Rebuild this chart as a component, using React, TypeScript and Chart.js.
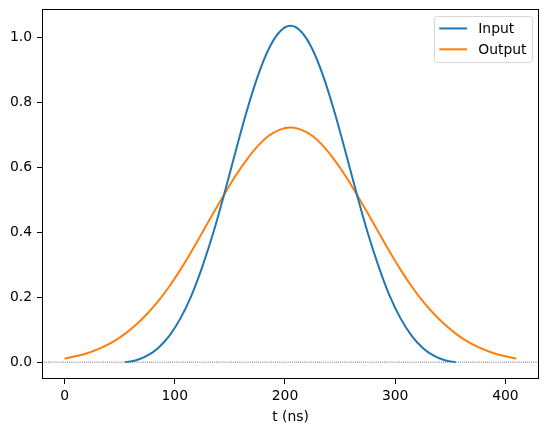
import React, { useEffect, useRef } from 'react';
import { Chart, registerables } from 'chart.js';

Chart.register(...registerables);

// ---- data ----
const seriesNames = ['Input', 'Output'];
const seriesColors = ['#1f77b4', '#ff7f0e'];
const xLabel = 't (ns)';

const inputT = [55, 65, 75, 85, 95, 105, 115, 125, 135, 145, 155, 165, 175, 185, 195, 205,
  215, 225, 235, 245, 255, 265, 275, 285, 295, 305, 315, 325, 335, 345, 355];
const inputV = [0.000, 0.006, 0.020, 0.044, 0.081, 0.134, 0.204, 0.294, 0.399, 0.519, 0.646,
  0.769, 0.877, 0.962, 1.016, 1.035, 1.016, 0.962, 0.877, 0.769, 0.646, 0.519, 0.399, 0.294,
  0.204, 0.134, 0.081, 0.044, 0.020, 0.006, 0.000];

const outputT = [0, 5, 15, 25, 35, 45, 55, 65, 75, 85, 95, 105, 115, 125, 135, 145, 155, 165,
  175, 185, 195, 205, 215, 225, 235, 245, 255, 265, 275, 285, 295, 305, 315, 325, 335, 345,
  355, 365, 375, 385, 395, 405, 410];
const outputV = [0.011, 0.0145, 0.022, 0.033, 0.047, 0.065, 0.088, 0.116, 0.149, 0.188, 0.233,
  0.284, 0.340, 0.399, 0.459, 0.517, 0.573, 0.622, 0.664, 0.696, 0.715, 0.722, 0.715, 0.696,
  0.664, 0.622, 0.573, 0.517, 0.459, 0.399, 0.340, 0.284, 0.233, 0.188, 0.149, 0.116, 0.088,
  0.065, 0.047, 0.033, 0.022, 0.0145, 0.011];

const xTicks = [0, 100, 200, 300, 400];
const yTicks = [0.0, 0.2, 0.4, 0.6, 0.8, 1.0];

// axis limits: data range plus 5% margins (matplotlib style)
const allX = [...inputT, ...outputT];
const allY = [...inputV, ...outputV];
const xLo = Math.min(...allX), xHi = Math.max(...allX);
const yLo = Math.min(...allY), yHi = Math.max(...allY);
const xMin = xLo - 0.05 * (xHi - xLo);
const xMax = xHi + 0.05 * (xHi - xLo);
const yMin = yLo - 0.05 * (yHi - yLo);
const yMax = yHi + 0.05 * (yHi - yLo);

const FONT_FAMILY = '"DejaVu Sans", sans-serif';
const FS = 13.9;

const decorPlugin = {
  id: 'decor',
  beforeDatasetsDraw(chart: any) {
    const { ctx, chartArea: a, scales } = chart;
    const y0 = scales.y.getPixelForValue(0);
    ctx.save();
    ctx.strokeStyle = '#000';
    ctx.lineWidth = 0.7;
    ctx.setLineDash([0.8, 1.3]);
    ctx.beginPath();
    ctx.moveTo(a.left, y0);
    ctx.lineTo(a.right, y0);
    ctx.stroke();
    ctx.restore();
  },
  afterDraw(chart: any) {
    const { ctx, chartArea: a } = chart;
    ctx.save();
    // frame
    ctx.strokeStyle = '#000';
    ctx.lineWidth = 1;
    ctx.strokeRect(a.left + 0.5, a.top + 0.5, a.right - a.left - 1, a.bottom - a.top - 1);

    // legend
    ctx.font = `${FS}px ${FONT_FAMILY}`;
    const textW = Math.max(...seriesNames.map((n) => ctx.measureText(n).width));
    const pad = 0.4 * FS;
    const handle = 2 * FS;
    const hpad = 0.8 * FS;
    const spacing = 0.5 * FS;
    const rowH = FS;
    const boxW = pad + handle + hpad + textW + pad;
    const boxH = pad * 2 + rowH * seriesNames.length + spacing * (seriesNames.length - 1);
    const boxRight = a.right - 0.5 * FS;
    const boxTop = a.top + 0.5 * FS;
    const boxLeft = boxRight - boxW;
    ctx.beginPath();
    ctx.roundRect(Math.round(boxLeft) + 0.5, Math.round(boxTop) + 0.5, Math.round(boxW), Math.round(boxH), 3);
    ctx.fillStyle = 'rgba(255,255,255,0.8)';
    ctx.fill();
    ctx.strokeStyle = 'rgba(204,204,204,0.8)';
    ctx.lineWidth = 1;
    ctx.stroke();
    seriesNames.forEach((name, i) => {
      const cy = boxTop + pad + rowH / 2 + i * (rowH + spacing);
      ctx.strokeStyle = seriesColors[i];
      ctx.lineWidth = 2;
      ctx.beginPath();
      ctx.moveTo(boxLeft + pad, cy);
      ctx.lineTo(boxLeft + pad + handle, cy);
      ctx.stroke();
      ctx.fillStyle = '#000';
      ctx.textAlign = 'left';
      ctx.textBaseline = 'middle';
      ctx.fillText(name, boxLeft + pad + handle + hpad, cy + 1);
    });
    ctx.restore();
  },
};

export default function App() {
  const canvasRef = useRef<HTMLCanvasElement | null>(null);

  useEffect(() => {
    document.body.style.margin = '0';
    const canvas = canvasRef.current;
    if (!canvas) return;
    const font = { family: FONT_FAMILY, size: FS };
    const chart = new Chart(canvas, {
      type: 'line',
      data: {
        datasets: [
          {
            label: seriesNames[0],
            data: inputT.map((t, i) => ({ x: t, y: inputV[i] })),
            borderColor: seriesColors[0],
            backgroundColor: seriesColors[0],
            borderWidth: 2,
            pointRadius: 0,
            cubicInterpolationMode: 'monotone',
            fill: false,
          },
          {
            label: seriesNames[1],
            data: outputT.map((t, i) => ({ x: t, y: outputV[i] })),
            borderColor: seriesColors[1],
            backgroundColor: seriesColors[1],
            borderWidth: 2,
            pointRadius: 0,
            cubicInterpolationMode: 'monotone',
            fill: false,
          },
        ],
      },
      options: {
        animation: false,
        responsive: false,
        devicePixelRatio: 1,
        events: [],
        layout: { padding: { left: 0, top: 9, right: 8, bottom: 0 } },
        plugins: { legend: { display: false }, tooltip: { enabled: false } },
        scales: {
          x: {
            type: 'linear',
            min: xMin,
            max: xMax,
            afterBuildTicks: (s: any) => {
              s.ticks = xTicks.map((v) => ({ value: v }));
            },
            afterFit: (s: any) => {
              s.height = 53;
              s.paddingLeft = 0;
              s.paddingRight = 0;
            },
            ticks: {
              font,
              color: '#000',
              padding: 4,
              maxRotation: 0,
              autoSkip: false,
              callback: (v: any) => String(v),
            },
            grid: {
              display: true,
              drawOnChartArea: false,
              drawTicks: true,
              tickLength: 5,
              color: '#000',
              lineWidth: 1,
            },
            border: { display: false },
            title: {
              display: true,
              text: xLabel,
              font,
              color: '#000',
              padding: { top: 0, bottom: 6 },
            },
          },
          y: {
            type: 'linear',
            min: yMin,
            max: yMax,
            afterBuildTicks: (s: any) => {
              s.ticks = yTicks.map((v) => ({ value: v }));
            },
            afterFit: (s: any) => {
              s.width = 42;
              s.paddingTop = 0;
              s.paddingBottom = 0;
            },
            ticks: {
              font,
              color: '#000',
              padding: 5,
              autoSkip: false,
              callback: (v: any) => Number(v).toFixed(1),
            },
            grid: {
              display: true,
              drawOnChartArea: false,
              drawTicks: true,
              tickLength: 5,
              color: '#000',
              lineWidth: 1,
            },
            border: { display: false },
          },
        },
      },
      plugins: [decorPlugin],
    } as any);
    return () => chart.destroy();
  }, []);

  return (
    <div style={{ width: 547, height: 432, position: 'relative', background: '#fff' }}>
      <canvas ref={canvasRef} width={547} height={432} style={{ display: 'block' }} />
    </div>
  );
}
